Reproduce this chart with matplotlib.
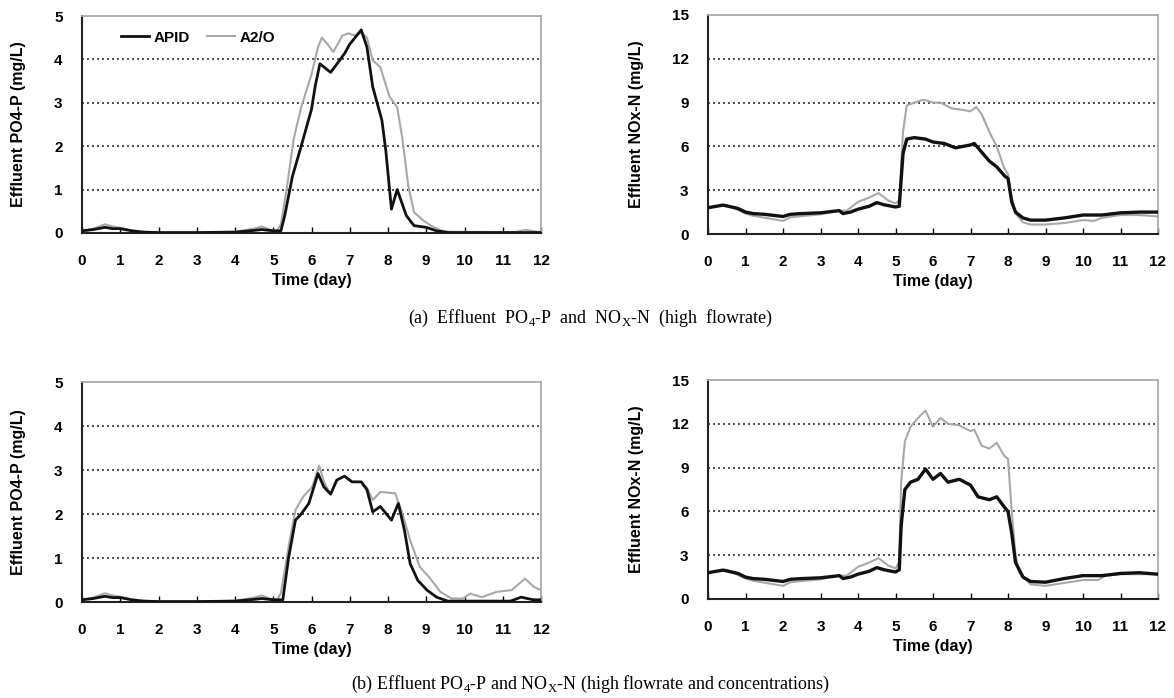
import numpy as np
import matplotlib
matplotlib.use("Agg")
import matplotlib.pyplot as plt

plt.rcParams['font.family'] = ['Liberation Sans', 'DejaVu Sans']
plt.rcParams['mathtext.fontset'] = 'custom'
plt.rcParams['mathtext.rm'] = 'Liberation Serif'

# (a) high flowrate - PO4-P
t_a_po4_apid = [0, 0.3, 0.6, 0.8, 1.0, 1.3, 1.6, 2.0, 3.0, 4.0, 4.5, 4.7, 5.0, 5.2, 5.3, 5.5, 5.73, 6.0, 6.1, 6.22,
                6.5, 6.86, 7.0, 7.3, 7.45, 7.6, 7.84, 7.94, 8.09, 8.24, 8.48, 8.68, 9.0, 9.27, 9.6, 12]
a_po4_apid = [0.05, 0.08, 0.13, 0.1, 0.1, 0.05, 0.02, 0.01, 0.01, 0.02, 0.06, 0.08, 0.05, 0.05, 0.4, 1.3, 2.0, 2.85, 3.4, 3.9,
              3.7, 4.13, 4.35, 4.68, 4.28, 3.37, 2.6, 1.92, 0.55, 1.0, 0.4, 0.17, 0.13, 0.05, 0.01, 0.01]
t_a_po4_a2o = [0, 0.3, 0.6, 0.8, 1.0, 1.3, 1.6, 2.0, 3.0, 4.0, 4.5, 4.7, 4.9, 5.1, 5.2, 5.35, 5.53, 5.73, 6.0, 6.17, 6.27,
               6.42, 6.57, 6.81, 6.96, 7.15, 7.3, 7.45, 7.6, 7.8, 8.04, 8.24, 8.38, 8.53, 8.68, 8.92, 9.12, 9.46,
               11.3, 11.6, 11.9, 12]
a_po4_a2o = [0.05, 0.1, 0.2, 0.15, 0.12, 0.06, 0.03, 0.01, 0.01, 0.03, 0.1, 0.15, 0.08, 0.05, 0.2, 1.0, 2.15, 2.9, 3.65, 4.28, 4.5,
             4.35, 4.17, 4.55, 4.6, 4.55, 4.62, 4.5, 3.98, 3.82, 3.14, 2.9, 2.15, 1.09, 0.48, 0.29, 0.17, 0.03,
             0.02, 0.07, 0.03, 0.02]

# (a) high flowrate - NOx-N
t_a_nox_apid = [0, 0.4, 0.8, 1.0, 1.2, 1.5, 2.0, 2.2, 2.5, 3.0, 3.5, 3.6, 3.8, 4.0, 4.3, 4.5, 4.7, 5.0, 5.1, 5.2, 5.3,
                5.5, 5.8, 6.0, 6.3, 6.6, 7.0, 7.1, 7.3, 7.5, 7.7, 7.9, 8.0, 8.1, 8.2, 8.4, 8.6, 9.0, 9.5, 10, 10.5,
                11, 11.5, 12]
a_nox_apid = [1.8, 1.98, 1.75, 1.5, 1.4, 1.35, 1.2, 1.35, 1.4, 1.45, 1.6, 1.4, 1.5, 1.7, 1.9, 2.15, 2.0, 1.85, 1.9, 5.5, 6.5,
              6.6, 6.5, 6.3, 6.2, 5.9, 6.1, 6.2, 5.6, 5.0, 4.6, 4.0, 3.8, 2.2, 1.5, 1.1, 0.95, 0.95, 1.1, 1.3, 1.3,
              1.45, 1.5, 1.5]
t_a_nox_a2o = [0, 0.5, 1.0, 1.2, 2.0, 2.2, 3.0, 3.5, 3.7, 4.0, 4.3, 4.55, 4.8, 5.0, 5.1, 5.2, 5.3, 5.5, 5.75, 6.0, 6.2,
               6.5, 6.8, 7.0, 7.15, 7.3, 7.5, 7.7, 7.9, 8.0, 8.1, 8.2, 8.4, 8.6, 9.0, 9.5, 10, 10.3, 10.5, 11, 11.5, 12]
a_nox_a2o = [1.8, 2.0, 1.4, 1.25, 0.9, 1.15, 1.35, 1.6, 1.6, 2.2, 2.5, 2.8, 2.3, 2.1, 2.3, 7.0, 8.8, 9.0, 9.2, 9.0, 9.0,
             8.6, 8.5, 8.4, 8.7, 8.2, 7.0, 6.0, 4.5, 4.1, 2.5, 1.4, 0.8, 0.65, 0.65, 0.75, 0.95, 0.9, 1.1, 1.3, 1.3, 1.2]

# (b) high flowrate and concentrations - PO4-P
t_b_po4_apid = [0, 0.3, 0.6, 0.8, 1.0, 1.3, 1.6, 2.0, 3.0, 4.0, 4.5, 4.7, 5.0, 5.25, 5.4, 5.58, 5.73, 5.93, 6.17, 6.32,
                6.5, 6.66, 6.86, 7.06, 7.3, 7.45, 7.6, 7.8, 8.09, 8.27, 8.43, 8.58, 8.78, 9.02, 9.27, 9.56, 11.2,
                11.48, 11.8, 12]
b_po4_apid = [0.05, 0.08, 0.13, 0.1, 0.1, 0.05, 0.02, 0.01, 0.01, 0.02, 0.06, 0.08, 0.05, 0.05, 1.0, 1.86, 2.0, 2.24, 2.92, 2.62,
              2.45, 2.77, 2.86, 2.73, 2.73, 2.55, 2.05, 2.17, 1.86, 2.24, 1.63, 0.87, 0.49, 0.27, 0.11, 0.02, 0.02,
              0.11, 0.05, 0.05]
t_b_po4_a2o = [0, 0.3, 0.6, 0.8, 1.0, 1.3, 1.6, 2.0, 3.0, 4.0, 4.5, 4.7, 4.9, 5.1, 5.2, 5.43, 5.58, 5.78, 6.02, 6.2, 6.34,
               6.5, 6.66, 6.86, 7.06, 7.3, 7.45, 7.6, 7.8, 8.19, 8.38, 8.58, 8.83, 9.07, 9.37, 9.66, 9.96, 10.15,
               10.45, 10.84, 11.23, 11.58, 11.82, 12]
b_po4_a2o = [0.05, 0.1, 0.2, 0.15, 0.12, 0.06, 0.03, 0.01, 0.01, 0.03, 0.1, 0.15, 0.08, 0.05, 0.2, 1.4, 2.09, 2.39, 2.62, 3.1, 2.7,
             2.45, 2.77, 2.86, 2.73, 2.73, 2.6, 2.32, 2.5, 2.47, 2.0, 1.4, 0.8, 0.57, 0.23, 0.08, 0.08, 0.19,
             0.11, 0.23, 0.27, 0.53, 0.34, 0.27]

# (b) high flowrate and concentrations - NOx-N
t_b_nox_apid = [0, 0.4, 0.8, 1.0, 1.2, 1.5, 2.0, 2.2, 2.5, 3.0, 3.5, 3.6, 3.8, 4.0, 4.3, 4.5, 4.7, 5.0, 5.1, 5.15, 5.25,
                5.4, 5.6, 5.8, 6.0, 6.2, 6.4, 6.7, 7.0, 7.2, 7.5, 7.7, 7.9, 8.0, 8.1, 8.2, 8.4, 8.6, 9.0, 9.5, 10,
                10.5, 11, 11.5, 12]
b_nox_apid = [1.8, 1.98, 1.75, 1.5, 1.4, 1.35, 1.2, 1.35, 1.4, 1.45, 1.6, 1.4, 1.5, 1.7, 1.9, 2.15, 2.0, 1.85, 2.0, 5.0, 7.5,
              8.0, 8.2, 8.9, 8.2, 8.6, 8.0, 8.2, 7.8, 7.0, 6.8, 7.0, 6.3, 6.0, 4.5, 2.5, 1.5, 1.2, 1.15, 1.4, 1.6,
              1.6, 1.75, 1.8, 1.7]
t_b_nox_a2o = [0, 0.5, 1.0, 1.2, 2.0, 2.2, 3.0, 3.5, 3.7, 4.0, 4.3, 4.55, 4.8, 5.0, 5.1, 5.15, 5.25, 5.4, 5.6, 5.8, 6.0,
               6.2, 6.4, 6.7, 7.0, 7.1, 7.3, 7.5, 7.7, 7.9, 8.0, 8.1, 8.2, 8.3, 8.6, 9.0, 9.5, 10, 10.4, 10.6, 11, 12]
b_nox_a2o = [1.8, 2.0, 1.4, 1.25, 0.9, 1.15, 1.35, 1.6, 1.6, 2.2, 2.5, 2.8, 2.3, 2.1, 2.5, 8.0, 10.8, 11.8, 12.4, 12.9, 11.8,
             12.4, 12.0, 11.9, 11.5, 11.6, 10.5, 10.3, 10.7, 9.8, 9.6, 6.0, 3.0, 1.8, 1.0, 0.9, 1.1, 1.3, 1.3, 1.6,
             1.7, 1.7]

captions = [r"(a)  Effluent  PO$_4$-P  and  NO$_\mathrm{X}$-N  (high  flowrate)",
            r"(b) Effluent PO$_4$-P and NO$_\mathrm{X}$-N (high flowrate and concentrations)"]

W, H = 1174, 698
fig = plt.figure(figsize=(W / 100, H / 100), dpi=100)


def px_axes(x0, y0, x1, y1):
    return fig.add_axes([x0 / W, 1 - y1 / H, (x1 - x0) / W, (y1 - y0) / H])


def style(ax, ymax, step, ylabel, ylab_x):
    ax.set_xlim(0, 12)
    ax.set_ylim(0, ymax)
    ax.set_xticks(range(13))
    ax.set_yticks(np.arange(0, ymax + 0.1, step))
    for v in np.arange(step, ymax - 0.1, step):
        ax.axhline(v, color='#333333', lw=1.2, ls=(0, (1.2, 1.8)), zorder=1)
    for s in ['top', 'right']:
        ax.spines[s].set_color('#aaaaaa')
        ax.spines[s].set_linewidth(1.3)
    for s in ['left', 'bottom']:
        ax.spines[s].set_color('#222222')
        ax.spines[s].set_linewidth(1.5)
    ax.tick_params(axis='x', direction='in', length=4, width=1, pad=15, labelsize=11)
    ax.tick_params(axis='y', length=0, pad=14, labelsize=11)
    for lab in ax.get_xticklabels() + ax.get_yticklabels():
        lab.set_fontweight('bold')
    ax.set_xlabel('Time (day)', fontsize=11.5, fontweight='bold', labelpad=4)
    ax.set_ylabel(ylabel, fontsize=11.5, fontweight='bold')
    ax.yaxis.set_label_coords(ylab_x, 0.5)
    ax.yaxis.label.set_verticalalignment('center')


black = '#111111'
grey = '#a8a8a8'

ax1 = px_axes(82, 16, 541, 233)
ax1.plot(t_a_po4_apid, a_po4_apid, color=black, lw=2.0, label='APID', zorder=3)
ax1.plot(t_a_po4_a2o, a_po4_a2o, color=grey, lw=1.5, label='A2/O', zorder=2)
style(ax1, 5, 1, 'Effluent PO4-P (mg/L)', -0.139)
ax1.legend(loc='center left', bbox_to_anchor=(0.085, 0.9), ncol=2, frameon=False,
           borderpad=0, borderaxespad=0, handlelength=1.8, handletextpad=0.35,
           columnspacing=1.1, prop={'weight': 'bold', 'size': 11})

ax2 = px_axes(708, 15, 1158, 234)
ax2.plot(t_a_nox_a2o, a_nox_a2o, color=grey, lw=1.5, zorder=2)
ax2.plot(t_a_nox_apid, a_nox_apid, color=black, lw=2.4, zorder=3)
style(ax2, 15, 3, 'Effluent NOx-N (mg/L)', -0.158)

ax3 = px_axes(82, 382, 541, 602)
ax3.plot(t_b_po4_a2o, b_po4_a2o, color=grey, lw=1.5, zorder=2)
ax3.plot(t_b_po4_apid, b_po4_apid, color=black, lw=2.0, zorder=3)
style(ax3, 5, 1, 'Effluent PO4-P (mg/L)', -0.139)

ax4 = px_axes(708, 380, 1158, 599)
ax4.plot(t_b_nox_a2o, b_nox_a2o, color=grey, lw=1.5, zorder=2)
ax4.plot(t_b_nox_apid, b_nox_apid, color=black, lw=2.4, zorder=3)
style(ax4, 15, 3, 'Effluent NOx-N (mg/L)', -0.158)

fig.text(590 / W, 1 - 318 / H, captions[0], ha='center', va='center',
         fontsize=13, family='Liberation Serif')
fig.text(590 / W, 1 - 684 / H, captions[1], ha='center', va='center',
         fontsize=13, family='Liberation Serif')

fig.savefig('out.png', dpi=100)
